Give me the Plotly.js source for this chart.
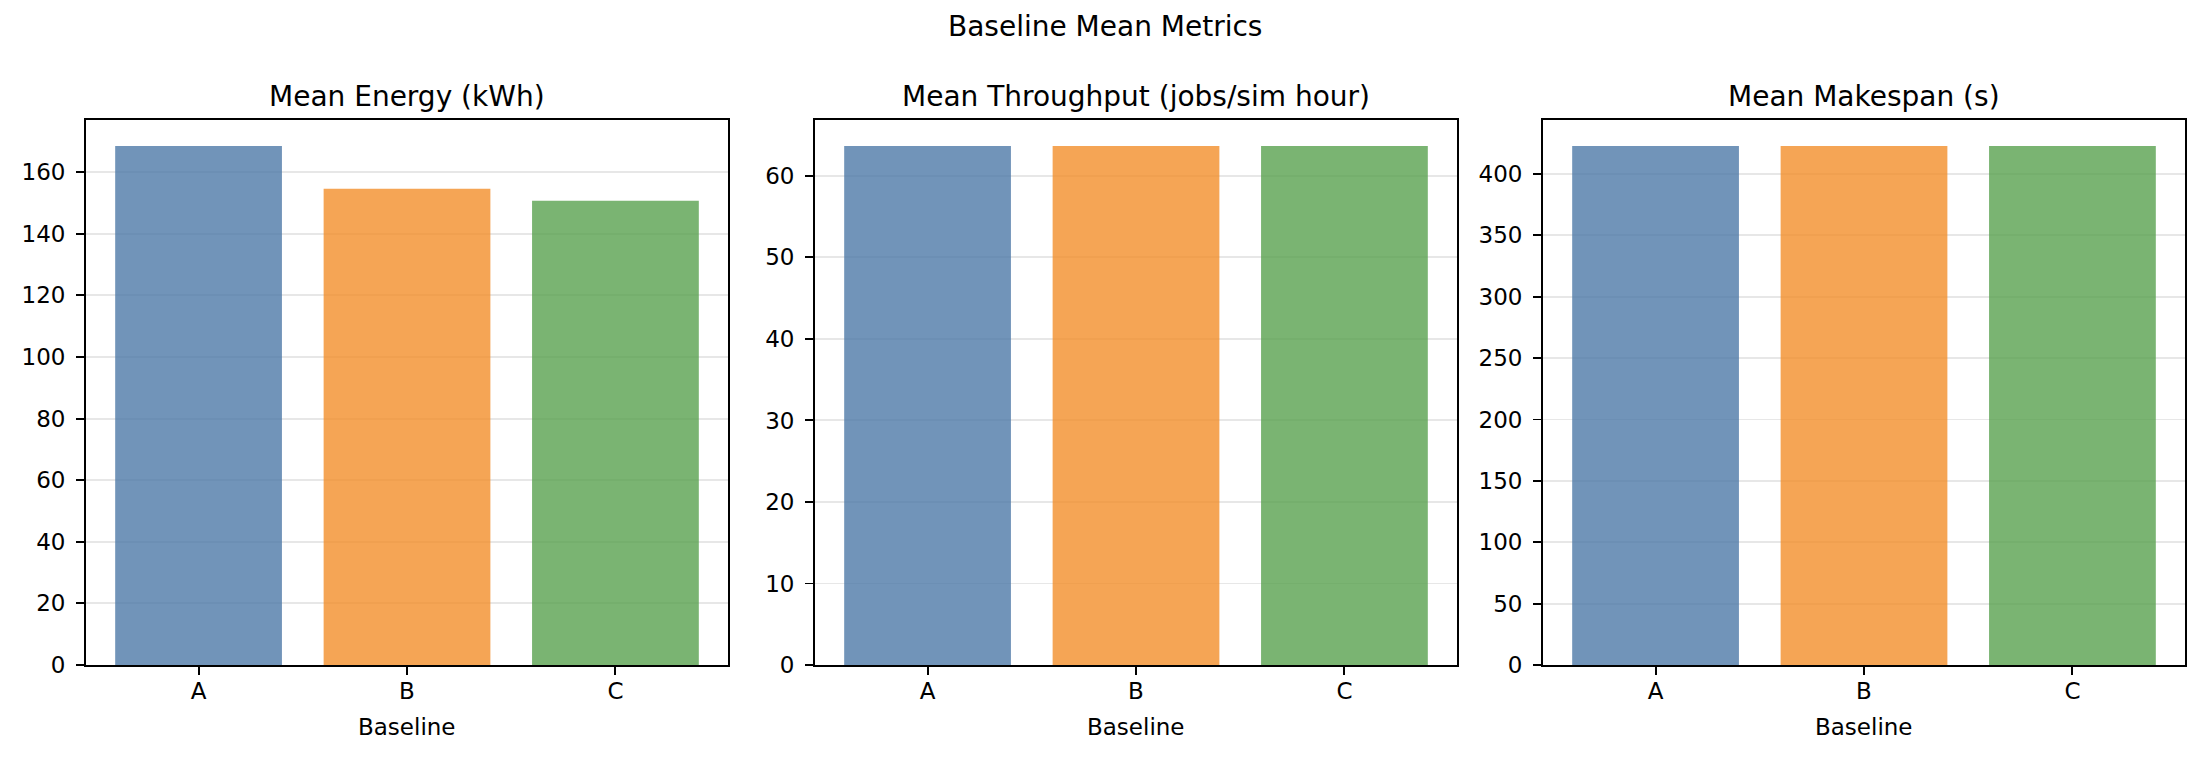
<!DOCTYPE html>
<html>
<head>
<meta charset="utf-8">
<script src="https://cdn.plot.ly/plotly-3.0.1.min.js"></script>
<style>html,body{margin:0;padding:0;background:#fff;}#chart{width:2210px;height:765px;}</style>
</head>
<body>
<div id="chart"></div>
<script>
// Data
const baselines = ["A", "B", "C"];
const meanEnergy = [168.5, 154.6, 150.7];
const meanThroughput = [63.67, 63.67, 63.67];
const meanMakespan = [422.8, 422.8, 422.8];
const panelTitles = ["Mean Energy (kWh)", "Mean Throughput (jobs/sim hour)", "Mean Makespan (s)"];
const suptitle = "Baseline Mean Metrics";
const xLabel = "Baseline";
const barColors = ["#4e79a7", "#f28e2b", "#59a14f"];

const W = 2210, H = 765;
const FONT = "DejaVu Sans, sans-serif";
const panels = [
  {vals: meanEnergy, px: [86, 728], dtick: 20},
  {vals: meanThroughput, px: [815, 1457], dtick: 10},
  {vals: meanMakespan, px: [1543, 2185], dtick: 50}
];
const yTop = 120, yBot = 665;
const yDom = [(H - yBot) / H, (H - yTop) / H];

const traces = [];
const layout = {
  width: W, height: H,
  margin: {l: 0, r: 0, t: 0, b: 0},
  paper_bgcolor: "#ffffff",
  plot_bgcolor: "#ffffff",
  showlegend: false,
  font: {family: FONT, size: 23, color: "#000"},
  annotations: [
    {text: suptitle, xref: "paper", yref: "paper", x: 0.5, y: 1 - 27 / H, xanchor: "center", yanchor: "middle", showarrow: false, font: {family: FONT, size: 28, color: "#000"}}
  ]
};

panels.forEach((p, i) => {
  const n = i === 0 ? "" : String(i + 1);
  const maxV = Math.max(...p.vals);
  traces.push({
    type: "bar",
    x: baselines,
    y: p.vals,
    xaxis: "x" + n,
    yaxis: "y" + n,
    width: 0.8,
    marker: {color: barColors, opacity: 0.8, line: {width: 0}},
    hoverinfo: "x+y"
  });
  const common = {
    showline: true, mirror: true, linecolor: "#000", linewidth: 1.9,
    ticks: "outside", ticklen: 8, tickwidth: 1.9, tickcolor: "#000",
    tickfont: {family: FONT, size: 23, color: "#000"},
    zeroline: false, layer: "above traces"
  };
  layout["xaxis" + n] = Object.assign({}, common, {
    domain: [p.px[0] / W, p.px[1] / W],
    anchor: "y" + n,
    type: "category",
    range: [-0.54, 2.54],
    showgrid: false,
    ticklabelstandoff: -4
  });
  layout["yaxis" + n] = Object.assign({}, common, {
    domain: yDom,
    anchor: "x" + n,
    range: [0, maxV * 1.05],
    dtick: p.dtick,
    tick0: 0,
    showgrid: true,
    gridcolor: "rgba(176,176,176,0.3)",
    gridwidth: 1.9,
    ticklabelstandoff: 6
  });
  const cx = (p.px[0] + p.px[1]) / 2 / W;
  layout.annotations.push({
    text: panelTitles[i], xref: "paper", yref: "paper", x: cx, y: 1 - 96 / H,
    xanchor: "center", yanchor: "middle", showarrow: false,
    font: {family: FONT, size: 28, color: "#000"}
  });
  layout.annotations.push({
    text: xLabel, xref: "paper", yref: "paper", x: cx, y: 1 - 727 / H,
    xanchor: "center", yanchor: "middle", showarrow: false,
    font: {family: FONT, size: 23, color: "#000"}
  });
});

Plotly.newPlot("chart", traces, layout, {displayModeBar: false, staticPlot: true});
</script>
</body>
</html>
